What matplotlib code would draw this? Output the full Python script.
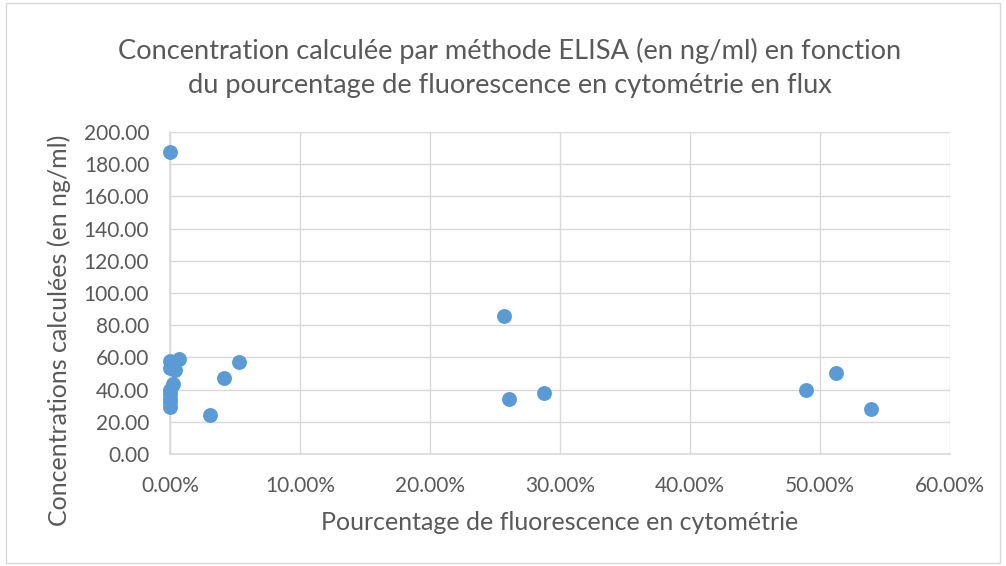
import numpy as np
import matplotlib.pyplot as plt
from matplotlib.ticker import FuncFormatter, MultipleLocator
from matplotlib.patches import Rectangle

plt.rcParams['font.family'] = ['Lato', 'DejaVu Sans']

# pourcentage de fluorescence (fraction) et concentration ELISA (ng/ml)
fluo = [0.0, 0.0, 0.007, 0.0, 0.004, 0.002, 0.0, 0.0, 0.0, 0.0, 0.0,
        0.031, 0.0415, 0.053, 0.257, 0.261, 0.288, 0.489, 0.512, 0.539]
conc = [187.5, 57.5, 59.0, 53.5, 52.0, 43.5, 40.0, 37.0, 34.0, 32.0, 29.5,
        24.5, 47.5, 57.0, 85.5, 34.0, 38.0, 39.5, 50.5, 28.0]

title = ("Concentration calculée par méthode ELISA (en ng/ml) en fonction\n"
         "du pourcentage de fluorescence en cytométrie en flux")
xlabel = "Pourcentage de fluorescence en cytométrie"
ylabel = "Concentrations calculées (en ng/ml)"

W, H = 1006, 566
fig = plt.figure(figsize=(W/100, H/100), dpi=100)
ax = fig.add_axes([170/W, 1-454/H, 780/W, 322/H])

grid_col = '#D9D9D9'
text_col = '#595959'

ax.scatter(fluo, conc, s=115, color='#5B9BD5', zorder=3, linewidths=0, clip_on=False)

ax.set_xlim(0, 0.6)
ax.set_ylim(0, 200)
ax.xaxis.set_major_locator(MultipleLocator(0.1))
ax.yaxis.set_major_locator(MultipleLocator(20))
ax.xaxis.set_major_formatter(FuncFormatter(lambda v, p: f"{v*100:.2f}%"))
ax.yaxis.set_major_formatter(FuncFormatter(lambda v, p: f"{v:.2f}"))
ax.grid(True, color=grid_col, linewidth=1)
ax.set_axisbelow(True)
for s in ['top', 'right']:
    ax.spines[s].set_visible(False)
for s in ['left', 'bottom']:
    ax.spines[s].set_color(grid_col)
    ax.spines[s].set_linewidth(1.2)
ax.tick_params(length=0, labelsize=15, colors=text_col)
ax.tick_params(axis='y', pad=15)
ax.tick_params(axis='x', pad=16)

fig.text(560/W, 1-522/H, xlabel, ha='center', va='center', fontsize=18, color=text_col)
fig.text(59/W, 1-330/H, ylabel, ha='center', va='center', rotation=90,
         fontsize=18, color=text_col)
fig.text(510/W, 1-68/H, title, ha='center', va='center', fontsize=19.6,
         color=text_col, linespacing=1.42)

fig.patches.append(Rectangle((0.006, 0.006), 0.988, 0.988, transform=fig.transFigure,
                             fill=False, edgecolor=grid_col, linewidth=1))

fig.savefig('out.png', dpi=100)
